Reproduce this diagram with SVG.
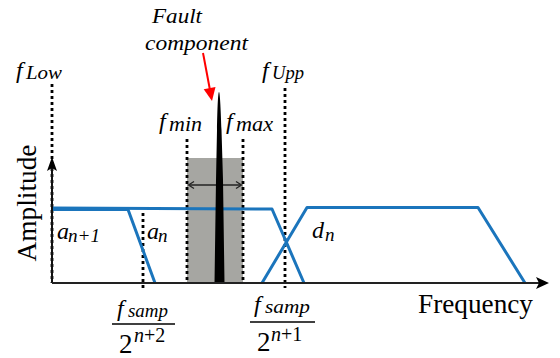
<svg xmlns="http://www.w3.org/2000/svg" width="560" height="358" viewBox="0 0 560 358">
<style>
.m{font-style:italic;fill:#000}
.r{fill:#000}
.dot{stroke:#000;stroke-width:2.8;stroke-dasharray:3 3;fill:none}
.blue{stroke:#1B75BC;stroke-width:3;fill:none;stroke-linejoin:round}
</style>
<rect width="560" height="358" fill="#fff"/>
<g id="band">
<rect x="187" y="158" width="56" height="125" fill="#a6a6a2"/>
</g>
<g id="connectors">
<line class="dot" x1="52" y1="84" x2="52" y2="283"/>
<line class="dot" x1="285" y1="88" x2="285" y2="288"/>
<line class="dot" x1="187" y1="139" x2="187" y2="283"/>
<line class="dot" x1="243" y1="139" x2="243" y2="283"/>
<line class="dot" x1="143" y1="213" x2="143" y2="288"/>
<line x1="189" y1="185" x2="241" y2="185" stroke="#222" stroke-width="1.3"/>
<path d="M194,181.5 L188.5,185 L194,188.5 M236,181.5 L241.5,185 L236,188.5" stroke="#222" stroke-width="1.3" fill="none"/>
<line x1="203" y1="53" x2="209.8" y2="89" stroke="#ff0000" stroke-width="2"/>
<polygon points="212,101 203.7,89.3 215.5,87.1" fill="#ff0000"/>
</g>
<g id="curve-an1">
<polyline class="blue" points="52,209.5 128,209.5 155,283"/>
</g>
<g id="curve-an">
<polyline class="blue" points="52,208 272,209 304,283"/>
</g>
<g id="curve-dn">
<polyline class="blue" points="262,283 307,207.5 478,207.5 525,283"/>
</g>
<g id="fault-spike">
<path d="M219,92 C220,92 220.8,110 221.5,130 L223,180 L224.5,283 L214.5,283 L216,180 L217,130 C217.4,110 218,92 219,92 Z" fill="#000"/>
</g>
<g id="axes">
<line x1="52" y1="283" x2="52" y2="165" stroke="#111" stroke-width="2"/>
<polygon points="52,157 47,171 52,168 57,171" fill="#000"/>
<line x1="52" y1="283" x2="542" y2="283" stroke="#222" stroke-width="2"/>
<polygon points="549,283 536,277 539,283 536,289" fill="#000"/>
</g>
<g id="labels" font-family="Liberation Serif, serif">
<text class="r" font-size="27" text-anchor="middle" transform="translate(36,203) rotate(-90)" textLength="117" lengthAdjust="spacingAndGlyphs">Amplitude</text>
<text class="r" font-size="27" x="418" y="313" textLength="115" lengthAdjust="spacingAndGlyphs">Frequency</text>
<text class="m" font-size="22" x="152" y="23" textLength="50" lengthAdjust="spacingAndGlyphs">Fault</text>
<text class="m" font-size="22" x="145" y="50" textLength="103" lengthAdjust="spacingAndGlyphs">component</text>
<text class="m" font-size="24" x="16" y="78">f</text><text class="m" font-size="19" x="26" y="79" textLength="36" lengthAdjust="spacingAndGlyphs">Low</text>
<text class="m" font-size="24" x="262" y="78">f</text><text class="m" font-size="19" x="272" y="79" textLength="32" lengthAdjust="spacingAndGlyphs">Upp</text>
<text class="m" font-size="24" x="159" y="129">f</text><text class="m" font-size="20" x="169" y="131" textLength="33" lengthAdjust="spacingAndGlyphs">min</text>
<text class="m" font-size="24" x="226" y="129">f</text><text class="m" font-size="20" x="236" y="131" textLength="37" lengthAdjust="spacingAndGlyphs">max</text>
<text class="m" font-size="24" x="57" y="239">a</text><text class="m" font-size="19" x="68" y="242" textLength="32" lengthAdjust="spacingAndGlyphs">n+1</text>
<text class="m" font-size="24" x="147" y="239">a</text><text class="m" font-size="19" x="158" y="242">n</text>
<text class="m" font-size="24" x="312" y="238">d</text><text class="m" font-size="19" x="325" y="241">n</text>
</g>
<g id="frac1" font-family="Liberation Serif, serif">
<text class="m" font-size="24" x="117" y="316">f</text><text class="m" font-size="19" x="128" y="317" textLength="40" lengthAdjust="spacingAndGlyphs">samp</text>
<line x1="112" y1="324" x2="175" y2="324" stroke="#000" stroke-width="1.5"/>
<text class="r" font-size="27" x="119" y="353">2</text>
<text font-size="20" x="134" y="342" class="r"><tspan font-style="italic">n</tspan>+2</text>
</g>
<g id="frac2" font-family="Liberation Serif, serif">
<text class="m" font-size="24" x="254" y="312">f</text><text class="m" font-size="19" x="265" y="313" textLength="45" lengthAdjust="spacingAndGlyphs">samp</text>
<line x1="250" y1="322" x2="315" y2="322" stroke="#000" stroke-width="1.5"/>
<text class="r" font-size="27" x="257" y="351">2</text>
<text font-size="20" x="271" y="341" class="r"><tspan font-style="italic">n</tspan>+1</text>
</g>
</svg>
